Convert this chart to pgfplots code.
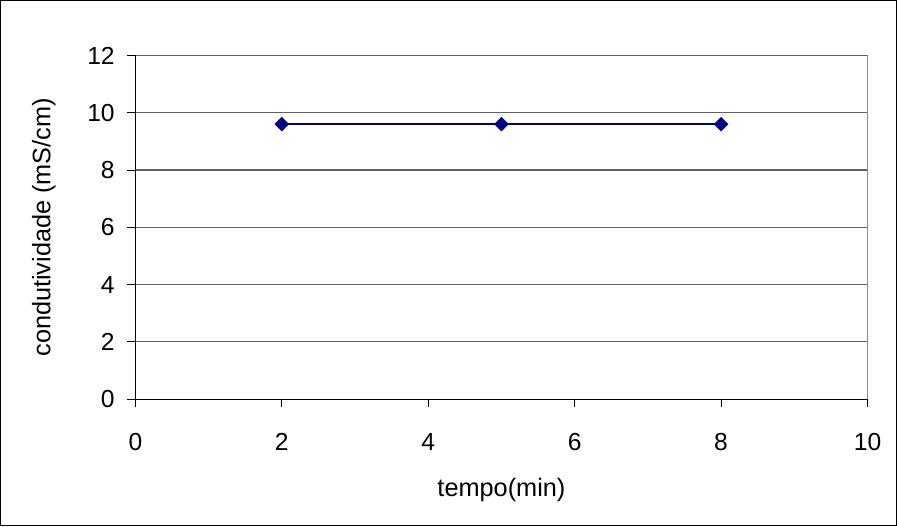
\documentclass[border=0pt]{standalone}
\usepackage{fontspec}
\setmainfont{Liberation Sans}
\usepackage{pgfplots}
\pgfplotsset{compat=1.18}
\definecolor{navyline}{RGB}{0,0,128}
\begin{document}
\begin{tikzpicture}
\begin{axis}[
  scale only axis,
  width=549.75pt, height=258pt,
  xmin=0, xmax=10, ymin=0, ymax=12,
  xtick={0,2,...,10}, ytick={0,2,...,12},
  axis x line=bottom, axis y line=left,
  axis line style={-, black, line width=0.8pt},
  tick align=outside,
  major tick length=6pt,
  tick style={black, line width=0.6pt},
  ymajorgrids,
  grid style={black!62, line width=0.8pt},
  /pgf/number format/assume math mode=true,
  ticklabel style={font=\fontsize{18.5}{21}\selectfont},
  label style={font=\fontsize{19}{22}\selectfont},
  xlabel={tempo(min)},
  ylabel={condutividade (mS/cm)},
  xticklabel style={yshift=-16pt},
  yticklabel style={xshift=-6pt},
  xlabel style={yshift=-14pt},
  ylabel style={yshift=17pt},
  clip=false,
]
\draw[black!45, line width=1pt] (rel axis cs:1,0) -- (rel axis cs:1,1);
\addplot[navyline, line width=1.2pt, mark=square*, mark size=3.6pt, mark options={rotate=45, fill=navyline, draw=navyline, line width=0.5pt}]
  coordinates {(2,9.6) (5,9.6) (8,9.6)};
\end{axis}
\draw[black, line width=0.8pt] (-101.25pt,-95.25pt) rectangle (571.5pt,299.25pt);
\end{tikzpicture}
\end{document}
